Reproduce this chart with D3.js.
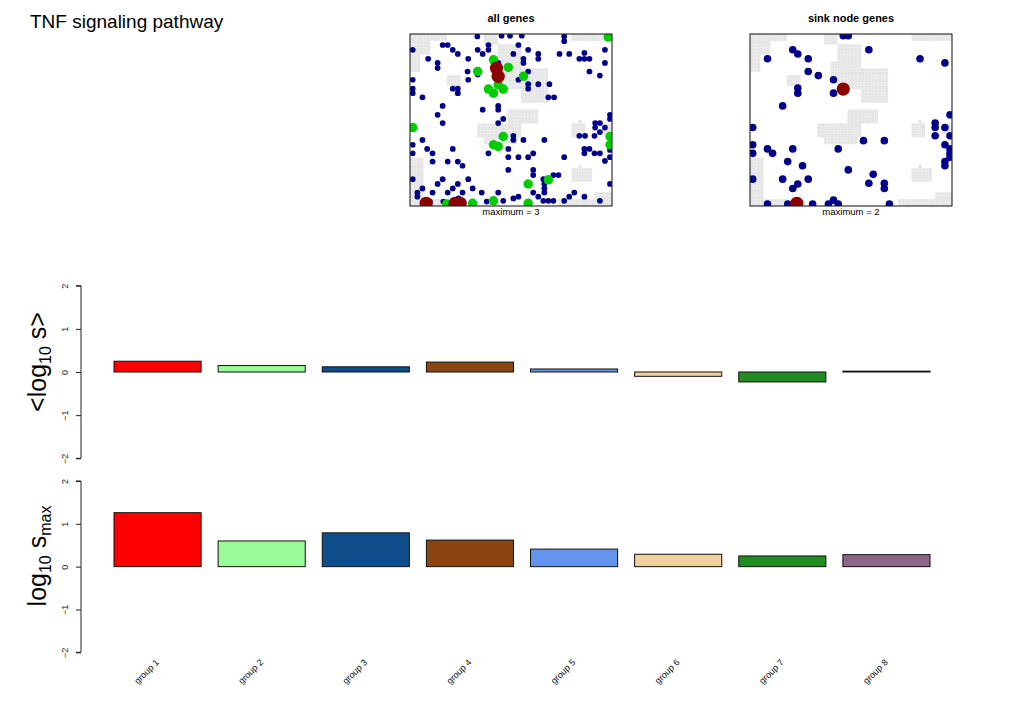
<!DOCTYPE html>
<html>
<head>
<meta charset="utf-8">
<script src="https://cdn.jsdelivr.net/npm/d3@7"></script>
<style>
  html, body { margin: 0; padding: 0; background: #fff; }
  text { font-family: "Liberation Sans", Arial, Helvetica, sans-serif; }
</style>
</head>
<body>
<svg id="chart" width="1020" height="721"></svg>
<script>
// ---------------- DATA ----------------
const chartTitle = "TNF signaling pathway";
const groups = ["group 1","group 2","group 3","group 4","group 5","group 6","group 7","group 8"];
const groupColors = ["#FF0000","#98FB98","#104E8B","#8B4513","#6495ED","#F0D2A0","#228B22","#8B668B"];
const meanLogS = [0.25, 0.15, 0.12, 0.23, 0.07, -0.10, -0.23, 0.02];
const logSmax  = [1.26, 0.60, 0.79, 0.62, 0.41, 0.29, 0.25, 0.28];
const yTicks = [-2, -1, 0, 1, 2];

// map grid (60 x 50 cells), grey background regions [x0, y0, x1, y1] in cell units
const mapCols = 60, mapRows = 50;
const greyRegions = [
  [0,0,11,2],[0,2,6,6],[0,6,3,11],
  [22,0,26,3],[26,3,33,8],[24,8,33,13],[33,10,41,20],[26,13,33,16],
  [11,12,15,15],[13,15,15,18],
  [48,0,60,2],
  [29,22,38,26],[20,26,33,30],[22,30,32,32],
  [48,26,52,30],[50,25,51,26],[57,26,60,29],
  [0,36,4,48],[48,39,54,43],[50,38,51,39],
  [44,48,60,50],[55,46,60,48],[0,48,11,50]
];

// points: [x, y, count] in map cell units
const allGenesPoints = [
  [20.0,0.7,1],[27.2,0.5,1],[29.7,0.5,1],[33.2,0.5,1],[45.8,0.7,1],[45.8,2.1,1],
  [0.8,4.6,1],[9.7,3.2,1],[11.2,3.2,1],[12.7,4.6,1],[14.2,5.8,1],[20.1,4.6,1],
  [21.6,5.8,1],[23.3,3.2,1],[23.3,4.6,1],[32.2,3.2,1],[35.1,4.6,1],[38.1,5.8,1],
  [44.4,5.8,1],[47.3,5.8,1],[51.8,5.5,1],[50.3,7.2,1],[51.8,7.2,1],[53.3,7.2,1],
  [57.9,4.6,1],[30.7,5.8,1],[33.7,7.2,1],[33.7,8.4,1],[38.1,7.2,1],[5.4,7.2,1],
  [8.2,8.4,1],[8.2,9.9,1],[17.3,7.2,1],[26.2,8.4,1],[57.9,8.4,1],[17.1,10.9,1],
  [20.1,11.8,1],[35.1,10.9,1],[53.3,10.9,1],[56.4,12.1,1],[0.8,13.3,1],[17.3,13.3,1],
  [32.2,13.3,1],[35.1,14.6,1],[35.1,15.9,1],[38.1,14.6,1],[41.4,14.6,1],[12.7,15.9,1],
  [14.2,15.9,1],[14.2,17.2,1],[0.8,15.9,1],[0.8,17.2,1],[3.7,18.4,1],[41.1,18.4,1],
  [42.8,18.4,1],[9.7,20.9,1],[8.2,23.5,1],[21.6,22.0,1],[26.2,20.9,1],[26.2,22.0,1],
  [9.7,25.9,1],[26.2,25.9,1],[27.7,24.7,1],[59.4,23.5,1],[59.4,24.7,1],[55.0,25.9,1],
  [56.4,25.9,1],[55.0,27.2,1],[57.9,27.2,1],[56.4,28.5,1],[54.8,29.6,1],[52.0,29.6,1],
  [50.3,29.6,1],[3.7,30.8,1],[0.8,32.2,1],[5.1,33.4,1],[6.7,34.7,1],[0.8,34.7,1],
  [12.7,33.4,1],[30.7,29.6,1],[30.7,30.8,1],[33.7,30.8,1],[39.9,30.8,1],[29.2,33.4,1],
  [23.3,34.7,1],[29.2,35.8,1],[32.2,35.8,1],[35.1,35.8,1],[36.6,34.7,1],[45.8,35.8,1],
  [51.8,33.4,1],[53.3,33.4,1],[51.8,34.7,1],[54.8,34.7,1],[56.4,34.7,1],[59.4,33.7,1],
  [59.4,35.8,1],[57.9,36.9,1],[6.7,37.1,1],[11.2,37.1,1],[14.2,37.1,1],[15.6,38.3,1],
  [29.2,39.5,1],[36.6,39.5,1],[36.6,41.0,1],[39.6,42.2,1],[39.9,43.6,1],[42.6,41.0,1],
  [44.1,41.0,1],[0.8,42.2,1],[9.7,42.2,1],[8.2,43.6,1],[14.2,43.6,1],[17.3,42.2,1],
  [12.7,44.9,1],[3.7,44.9,1],[2.2,46.1,1],[2.2,47.3,1],[6.7,46.1,1],[11.2,46.1,1],
  [15.6,46.1,1],[18.6,44.9,1],[21.3,46.1,1],[26.2,46.1,1],[27.7,48.5,1],[30.7,47.8,1],
  [32.2,47.3,1],[36.6,46.1,1],[38.1,47.3,1],[39.9,44.9,1],[39.9,46.1,1],[39.6,48.5,1],
  [41.1,48.5,1],[42.6,48.5,1],[45.8,48.5,1],[47.3,47.3,1],[48.8,46.1,1],[51.8,47.3,1],
  [56.4,48.5,1],[59.4,43.6,1],[14.4,47.8,1],[5.9,48.7,1],[9.9,48.7,1],[22.8,48.7,1],
  [58.9,0.9,2],[24.8,7.5,2],[29.2,9.7,2],[20.1,10.9,2],[33.7,12.3,2],[23.3,16.0,2],
  [24.8,17.2,2],[27.7,16.0,2],[26.2,14.8,2],[0.8,27.2,2],[27.7,29.8,2],[24.8,32.2,2],
  [26.2,32.7,2],[59.4,29.8,2],[59.4,32.2,2],[35.1,43.6,2],[41.1,42.4,2],[18.6,49.2,2],
  [24.8,48.5,2],[35.1,49.2,2],[10.9,49.4,2],
  [25.7,9.9,3],[26.2,12.3,3],[4.8,49.2,3],[13.4,49.2,3],[14.9,49.2,3]
];
const sinkNodePoints = [
  [27.7,0.5,1],[29.2,0.5,1],[12.7,4.6,1],[14.2,5.8,1],[35.3,4.6,1],[5.2,7.2,1],
  [17.3,7.2,1],[50.5,7.2,1],[57.9,8.4,1],[17.3,10.9,1],[20.3,12.1,1],[24.8,13.3,1],
  [14.2,15.7,1],[14.2,17.2,1],[24.8,17.2,1],[9.7,20.9,1],[0.8,27.2,1],[59.4,23.5,1],
  [55.0,25.9,1],[55.0,27.2,1],[57.9,27.2,1],[55.0,29.6,1],[59.4,29.6,1],[0.8,32.2,1],
  [0.8,34.7,1],[5.2,33.4,1],[6.7,34.7,1],[12.7,33.4,1],[26.2,33.4,1],[33.7,31.0,1],
  [39.9,31.0,1],[57.9,32.2,1],[59.4,33.4,1],[59.4,34.7,1],[59.4,35.8,1],[57.9,37.1,1],
  [57.9,38.3,1],[11.2,37.1,1],[15.6,38.3,1],[29.2,39.5,1],[36.6,40.8,1],[0.8,42.2,1],
  [9.7,42.2,1],[17.3,42.2,1],[14.2,43.6,1],[12.7,44.9,1],[35.3,43.4,1],[39.9,43.4,1],
  [39.9,44.9,1],[5.2,49.4,1],[11.2,49.4,1],[18.6,49.4,1],[23.3,49.4,1],[24.8,48.3,1],
  [26.2,49.4,1],[41.4,49.4,1],
  [27.7,16.0,2],[13.9,49.2,2]
];
const panels = [
  { title: "all genes", points: allGenesPoints, maximum: 3, colors: ["#00008B", "#00CD00", "#8B0000"] },
  { title: "sink node genes", points: sinkNodePoints, maximum: 2, colors: ["#00008B", "#8B0000"] }
];

// ---------------- DRAW ----------------
const svg = d3.select("#chart");

svg.append("text").attr("x", 30).attr("y", 28)
  .attr("font-size", 19).attr("fill", "#000").text(chartTitle);

// ---- map panels ----
const panelBoxes = [ {x0: 410, x1: 612}, {x0: 750, x1: 952} ];
const mapTop = 34, mapBottom = 206;

panels.forEach((p, i) => {
  const box = panelBoxes[i];
  const sx = d3.scaleLinear().domain([0, mapCols]).range([box.x0, box.x1]);
  const sy = d3.scaleLinear().domain([0, mapRows]).range([mapTop, mapBottom]);
  const g = svg.append("g");
  const clipId = "clip" + i;
  svg.append("clipPath").attr("id", clipId).append("rect")
    .attr("x", box.x0).attr("y", mapTop)
    .attr("width", box.x1 - box.x0).attr("height", mapBottom - mapTop);
  const inner = g.append("g").attr("clip-path", `url(#${clipId})`);

  const cells = [];
  greyRegions.forEach(r => {
    for (let cx = r[0]; cx < r[2]; cx++)
      for (let cy = r[1]; cy < r[3]; cy++) cells.push([cx, cy]);
  });
  const cw = sx(1) - sx(0), ch = sy(1) - sy(0);
  inner.selectAll("rect.cell").data(cells).join("rect")
    .attr("class", "cell")
    .attr("x", d => sx(d[0])).attr("y", d => sy(d[1]))
    .attr("width", cw).attr("height", ch)
    .attr("fill", "#E5E5E5").attr("stroke", "#EEEEEE").attr("stroke-width", 0.25);

  const rScale = v => 1 + 5.6 * (v / p.maximum);
  const pts = p.points.slice().sort((a, b) => a[2] - b[2]);
  inner.selectAll("circle").data(pts).join("circle")
    .attr("cx", d => sx(d[0])).attr("cy", d => sy(d[1]))
    .attr("r", d => rScale(d[2]))
    .attr("fill", d => p.colors[d[2] - 1]);

  g.append("rect").attr("x", box.x0).attr("y", mapTop)
    .attr("width", box.x1 - box.x0).attr("height", mapBottom - mapTop)
    .attr("fill", "none").attr("stroke", "#222").attr("stroke-width", 1.1);

  const cx = (box.x0 + box.x1) / 2;
  g.append("text").attr("x", cx).attr("y", 22).attr("text-anchor", "middle")
    .attr("font-size", 11).attr("font-weight", "bold").text(p.title);
  g.append("text").attr("x", cx).attr("y", 215).attr("text-anchor", "middle")
    .attr("font-size", 9.5).text("maximum = " + p.maximum);
});

// ---- bar panels ----
const barX = d3.scaleBand().domain(groups).range([114, 930]).paddingInner(17 / 104);
const barW = barX.bandwidth();

function barPanel(values, yTop, yBottom, titleParts, titleCenter, withLabels) {
  const y = d3.scaleLinear().domain([-2, 2]).range([yBottom, yTop]);
  const g = svg.append("g");
  const axis = d3.axisLeft(y).tickValues(yTicks).tickSize(5)
    .tickFormat(d => d < 0 ? "\u2212" + Math.abs(d) : d);
  const ax = g.append("g").attr("transform", "translate(81,0)").call(axis);
  ax.select(".domain").attr("stroke", "#222").attr("d", `M-5,${y(-2)}H0V${y(2)}H-5`);
  ax.selectAll(".tick line").attr("stroke", "#222");
  ax.selectAll(".tick text")
    .attr("font-family", "Liberation Sans, Arial, sans-serif")
    .attr("font-size", 9).attr("fill", "#222")
    .attr("x", null).attr("dy", null).attr("y", 0)
    .attr("text-anchor", "middle")
    .attr("transform", "translate(-13,0) rotate(-90)");

  g.selectAll("rect.bar").data(values).join("rect")
    .attr("class", "bar")
    .attr("x", (d, i) => barX(groups[i]))
    .attr("y", d => y(Math.max(0, d)))
    .attr("width", barW)
    .attr("height", d => Math.abs(y(d) - y(0)))
    .attr("fill", (d, i) => groupColors[i])
    .attr("stroke", "#111").attr("stroke-width", 1);

  const t = g.append("text")
    .attr("transform", `translate(46,${titleCenter}) rotate(-90)`)
    .attr("text-anchor", "middle").attr("font-size", 25).attr("fill", "#000");
  let sub = false;
  titleParts.forEach(([txt, isSub]) => {
    const ts = t.append("tspan").text(txt);
    if (isSub) ts.attr("font-size", 16);
    if (isSub !== sub) ts.attr("dy", isSub ? 5 : -5);
    sub = isSub;
  });

  if (withLabels) {
    g.selectAll("text.glab").data(groups).join("text")
      .attr("class", "glab")
      .attr("transform", d => `translate(${barX(d) + barW / 2 + 2},663) rotate(-45)`)
      .attr("text-anchor", "end").attr("font-size", 9).attr("fill", "#111")
      .text(d => d);
  }
}

barPanel(meanLogS, 285.7, 458.3, [["<log", false], ["10", true], [" s>", false]], 362, false);
barPanel(logSmax, 481, 652.3, [["log", false], ["10", true], [" s", false], ["max", true]], 556, true);
</script>
</body>
</html>
